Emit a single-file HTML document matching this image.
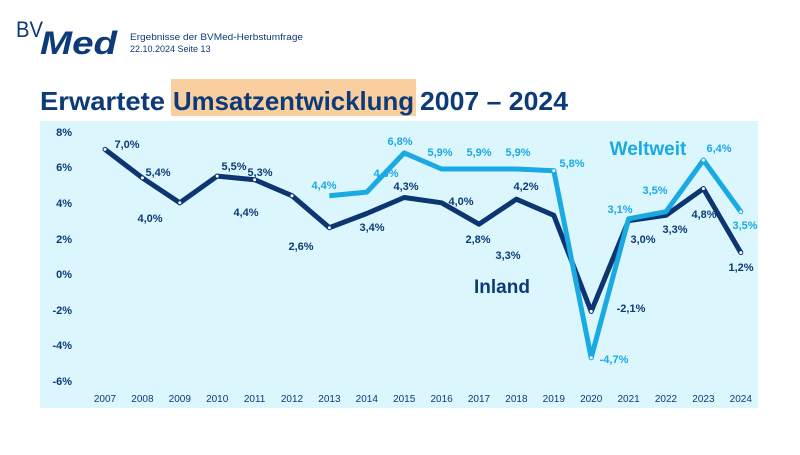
<!DOCTYPE html>
<html><head><meta charset="utf-8"><style>
body{margin:0;width:800px;height:450px;background:#fff;overflow:hidden;font-family:"Liberation Sans",sans-serif}
</style></head><body>
<svg width="800" height="450" xmlns="http://www.w3.org/2000/svg" font-family="Liberation Sans, sans-serif">
<text x="16" y="37" font-size="22" fill="#0d3a78" textLength="27" lengthAdjust="spacingAndGlyphs">BV</text>
<text x="40" y="54" font-size="32" font-weight="bold" font-style="italic" fill="#0d3a78" textLength="77" lengthAdjust="spacingAndGlyphs">Med</text>
<text x="130" y="40" font-size="9" fill="#0d3a78" textLength="173" lengthAdjust="spacingAndGlyphs">Ergebnisse der BVMed-Herbstumfrage</text>
<text x="130" y="52" font-size="9" fill="#0d3a78">22.10.2024   Seite 13</text>
<rect x="171" y="79" width="245" height="37" fill="#f9cfa0"/>
<g font-size="26" font-weight="bold" fill="#0d3a78">
<text x="40" y="110" textLength="125" lengthAdjust="spacingAndGlyphs">Erwartete</text>
<text x="173" y="110" textLength="241" lengthAdjust="spacingAndGlyphs">Umsatzentwicklung</text>
<text x="420" y="110" textLength="148" lengthAdjust="spacingAndGlyphs">2007 – 2024</text>
</g>
<rect x="40" y="121" width="718" height="287" fill="#dcf6fd"/>
<g font-size="11" font-weight="bold" fill="#0d3a78" text-anchor="end">
<text x="72" y="136">8%</text><text x="72" y="171">6%</text><text x="72" y="207">4%</text><text x="72" y="243">2%</text><text x="72" y="278">0%</text><text x="72" y="314">-2%</text><text x="72" y="349">-4%</text><text x="72" y="385">-6%</text>
</g>
<g font-size="10" fill="#0d3a78" text-anchor="middle">
<text x="105" y="402">2007</text><text x="142.4" y="402">2008</text><text x="179.8" y="402">2009</text><text x="217.2" y="402">2010</text><text x="254.6" y="402">2011</text><text x="292" y="402">2012</text><text x="329.4" y="402">2013</text><text x="366.8" y="402">2014</text><text x="404.2" y="402">2015</text><text x="441.6" y="402">2016</text><text x="479" y="402">2017</text><text x="516.4" y="402">2018</text><text x="553.8" y="402">2019</text><text x="591.2" y="402">2020</text><text x="628.6" y="402">2021</text><text x="666" y="402">2022</text><text x="703.4" y="402">2023</text><text x="740.8" y="402">2024</text>
</g>
<polyline fill="none" stroke="#0d3570" stroke-width="5" stroke-linejoin="round" points="105,149.4 142.4,177.9 179.8,202.8 217.2,176.1 254.6,179.7 292,195.7 329.4,227.7 366.8,213.5 404.2,197.5 441.6,202.8 479,224.2 516.4,199.2 553.8,215.3 591.2,311.4 628.6,220.6 666,215.3 703.4,188.6 740.8,252.6"/>
<polyline fill="none" stroke="#19a9e3" stroke-width="5" stroke-linejoin="round" points="329.4,195.7 366.8,192.1 404.2,152.9 441.6,169 479,169 516.4,169 553.8,170.8 591.2,357.7 628.6,218.8 666,211.7 703.4,160.1 740.8,211.7"/>
<g fill="#fff" stroke="#0d3570" stroke-width="1">
<circle cx="105" cy="149.4" r="2"/><circle cx="142.4" cy="177.9" r="2"/><circle cx="179.8" cy="202.8" r="2"/><circle cx="217.2" cy="176.1" r="2"/><circle cx="254.6" cy="179.7" r="2"/><circle cx="292" cy="195.7" r="2"/><circle cx="329.4" cy="227.7" r="2"/><circle cx="591.2" cy="311.4" r="2"/><circle cx="740.8" cy="252.6" r="2"/><circle cx="703.4" cy="188.6" r="2"/>
</g>
<g fill="#fff" stroke="#19a9e3" stroke-width="1">
<circle cx="591.2" cy="357.7" r="2"/><circle cx="703.4" cy="160.1" r="2"/><circle cx="740.8" cy="211.7" r="2"/><circle cx="553.8" cy="170.8" r="2"/>
</g>
<g font-size="11" font-weight="bold" fill="#0d3a78" text-anchor="middle">
<text x="127" y="148">7,0%</text><text x="158" y="176">5,4%</text><text x="150" y="222">4,0%</text><text x="234" y="170">5,5%</text><text x="260" y="176">5,3%</text><text x="246" y="216">4,4%</text><text x="301" y="250">2,6%</text><text x="372" y="231">3,4%</text><text x="406" y="190">4,3%</text><text x="461" y="205">4,0%</text><text x="478" y="243">2,8%</text><text x="526" y="190">4,2%</text><text x="508" y="259">3,3%</text><text x="631" y="312">-2,1%</text><text x="643" y="243">3,0%</text><text x="675" y="233">3,3%</text><text x="704" y="218">4,8%</text><text x="741" y="271">1,2%</text>
</g>
<g font-size="11" font-weight="bold" fill="#19a9e3" text-anchor="middle">
<text x="324" y="189">4,4%</text><text x="386" y="177">4,6%</text><text x="400" y="145">6,8%</text><text x="440" y="156">5,9%</text><text x="479" y="156">5,9%</text><text x="518" y="156">5,9%</text><text x="572" y="167">5,8%</text><text x="614" y="363">-4,7%</text><text x="620" y="213">3,1%</text><text x="655" y="194">3,5%</text><text x="719" y="152">6,4%</text><text x="745" y="229">3,5%</text>
</g>
<text x="648" y="155" font-size="19" font-weight="bold" fill="#19a9e3" text-anchor="middle">Weltweit</text>
<text x="502" y="293" font-size="19" font-weight="bold" fill="#0d3a78" text-anchor="middle">Inland</text>
</svg>
</body></html>
